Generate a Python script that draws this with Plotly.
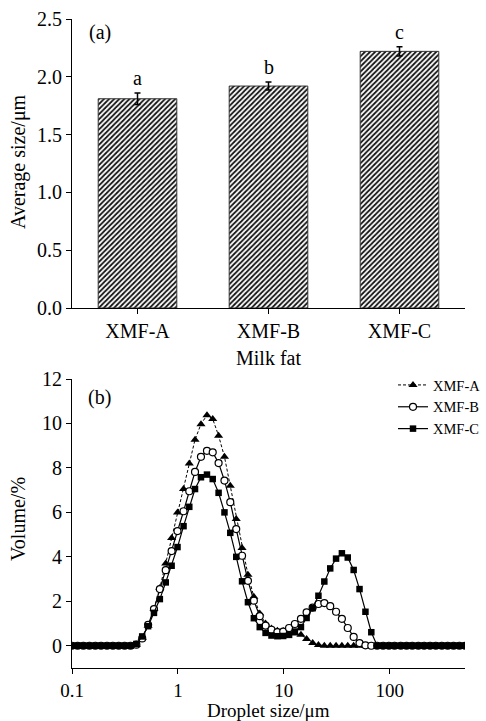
import plotly.graph_objects as go

# ---------------- data: panel (a) ----------------
milk_fat = ["XMF-A", "XMF-B", "XMF-C"]
avg_size = [1.81, 1.92, 2.22]
avg_err = [0.05, 0.035, 0.04]
sig_letters = ["a", "b", "c"]

# ---------------- data: panel (b) ----------------
droplet_size = [0.0995, 0.113, 0.128, 0.146, 0.166, 0.188, 0.214, 0.243, 0.276, 0.314, 0.357,
                0.405, 0.460, 0.523, 0.594, 0.675, 0.767, 0.872, 0.991,
                1.13, 1.28, 1.45, 1.65, 1.88, 2.13, 2.42, 2.75, 3.12, 3.55, 4.03, 4.58, 5.21, 5.92,
                6.72, 7.64, 8.68, 9.86,
                11.2, 12.7, 14.5, 16.4, 18.7, 21.2, 24.1, 27.4, 31.1, 35.3, 40.1, 45.6, 51.8, 58.9,
                66.9, 76.0, 86.4, 98.1,
                111, 127, 144, 163, 186, 211, 240, 272, 310, 352, 400, 454, 516, 586]

vol_A = [0] * 11 + [
    0.05, 0.35, 0.9, 1.65, 2.6, 3.7, 4.85, 6.0,
    7.05, 8.2, 9.27, 9.97, 10.37, 10.2, 9.45, 8.5, 7.2, 5.7, 4.4, 3.2, 2.2, 1.45,
    1.0, 0.78, 0.68, 0.66,
    0.62, 0.55, 0.5, 0.3, 0.12, 0.03] + [0] * 26

vol_B = [0] * 11 + [
    0.05, 0.33, 0.94, 1.65, 2.55, 3.4, 4.26, 5.16,
    6.05, 6.95, 7.82, 8.5, 8.77, 8.7, 8.22, 7.43, 6.46, 5.25, 4.05, 2.92, 2.03, 1.33,
    0.91, 0.72, 0.61, 0.64,
    0.8, 0.98, 1.21, 1.5, 1.72, 1.88, 1.92, 1.78, 1.53, 1.21, 0.8, 0.4, 0.12, 0.02,
    0, 0, 0, 0] + [0] * 14

vol_C = [0] * 11 + [
    0.08, 0.42, 0.88, 1.48, 2.1, 2.85, 3.6, 4.44,
    5.38, 6.25, 7.05, 7.58, 7.7, 7.5, 6.88, 6.0, 5.08, 4.0, 2.9, 1.96, 1.24, 0.84,
    0.58, 0.46, 0.43, 0.44,
    0.49, 0.64, 0.84, 1.25, 1.69, 2.25, 2.89, 3.48, 3.92, 4.16, 3.97, 3.41, 2.55, 1.53,
    0.61, 0, 0, 0] + [0] * 14

FONT = "Liberation Serif"
W, H = 486, 721

fig = go.Figure()

fig.add_trace(go.Bar(
    x=milk_fat, y=avg_size, width=0.6,
    marker=dict(color="white", line=dict(color="#333", width=1),
                pattern=dict(shape="/", fgcolor="#111", bgcolor="white", size=3.6, solidity=0.5)),
    error_y=dict(type="data", array=avg_err, color="black", thickness=1.5, width=3),
    xaxis="x", yaxis="y", showlegend=False))

series = [
    ("XMF-A", vol_A, dict(symbol="triangle-up", size=8, color="black"), dict(color="black", width=1, dash="3px,2px")),
    ("XMF-B", vol_B, dict(symbol="circle", size=7, color="white", line=dict(color="black", width=1.2)), dict(color="black", width=1.2)),
    ("XMF-C", vol_C, dict(symbol="square", size=6.5, color="black"), dict(color="black", width=1.2)),
]
for name, vals, mk, ln in series:
    fig.add_trace(go.Scatter(x=droplet_size, y=vals, name=name, mode="lines+markers",
                             marker=mk, line=ln, xaxis="x2", yaxis="y2"))

axis_common = dict(showline=True, linecolor="black", linewidth=1.2, ticks="outside", ticklen=5,
                   tickwidth=1.2, tickcolor="black", showgrid=False, zeroline=False,
                   automargin=False)
tf20 = dict(family=FONT, size=20, color="black")
tf19 = dict(family=FONT, size=19, color="black")

xd = [72 / W, 465 / W]
fig.update_layout(
    template="none",
    width=W, height=H, margin=dict(l=0, r=0, t=0, b=0, pad=0, autoexpand=False),
    paper_bgcolor="white", plot_bgcolor="white",
    font=dict(family=FONT, color="black"),
    xaxis=dict(domain=xd, anchor="y", range=[-0.5, 2.5], tickfont=tf20, **axis_common),
    yaxis=dict(domain=[1 - 308 / H, 1 - 19 / H], anchor="x", range=[0, 2.5], dtick=0.5,
               tickformat=".1f", tickfont=tf20, **axis_common),
    xaxis2=dict(domain=xd, anchor="y2", type="log", range=[-1, 2.71], tickfont=tf19,
                tickvals=[0.1, 1, 10, 100], ticktext=["0.1", "1", "10", "100"], **axis_common),
    yaxis2=dict(domain=[1 - 668 / H, 1 - 379 / H], anchor="x2", range=[-1, 12], tickfont=tf20,
                tickvals=[0, 2, 4, 6, 8, 10, 12], **axis_common),
    legend=dict(x=393 / W, y=1 - 369 / H, xanchor="left", yanchor="top",
                font=dict(family=FONT, size=14.5, color="black"), bgcolor="rgba(0,0,0,0)",
                borderwidth=0, tracegroupgap=0),
)

ann = []
for cat, v, e, t in zip(milk_fat, avg_size, avg_err, sig_letters):
    ann.append(dict(x=cat, y=v + e, xref="x", yref="y", text=t, showarrow=False,
                    yanchor="bottom", yshift=2, font=tf20))
txt = dict(showarrow=False, xref="paper", yref="paper")
ann += [
    dict(text="(a)", x=87 / W, y=1 - 33 / H, xanchor="left", yanchor="middle", font=tf20, **txt),
    dict(text="(b)", x=86 / W, y=1 - 397 / H, xanchor="left", yanchor="middle", font=tf20, **txt),
    dict(text="Average size/μm", x=18 / W, y=1 - 162 / H, textangle=-90, xanchor="center", yanchor="middle", font=tf20, **txt),
    dict(text="Milk fat", x=268 / W, y=1 - 358 / H, xanchor="center", yanchor="middle", font=tf20, **txt),
    dict(text="Volume/%", x=18 / W, y=1 - 519 / H, textangle=-90, xanchor="center", yanchor="middle", font=tf20, **txt),
    dict(text="Droplet size/μm", x=268 / W, y=1 - 710 / H, xanchor="center", yanchor="middle", font=tf19, **txt),
]
fig.update_layout(annotations=ann)

fig.write_html("out.html")
